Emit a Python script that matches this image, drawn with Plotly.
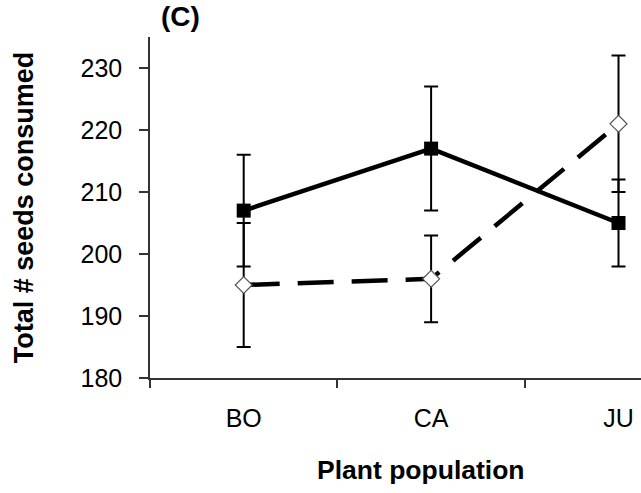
import plotly.graph_objects as go

populations = ["BO", "CA", "JU"]
solid_means = [207, 217, 205]
solid_err = [9, 10, 7]
dashed_means = [195, 196, 221]
dashed_err = [10, 7, 11]
y_ticks = [180, 190, 200, 210, 220, 230]

x_pos = list(range(len(populations)))
FONT = "Liberation Sans, Arial, sans-serif"

fig = go.Figure()

fig.add_trace(go.Scatter(
    x=x_pos, y=solid_means,
    mode="lines+markers",
    line=dict(color="black", width=4.5),
    marker=dict(symbol="square", size=14, color="black"),
    error_y=dict(type="data", array=solid_err, visible=True,
                 color="black", thickness=2, width=7),
    showlegend=False,
))

fig.add_trace(go.Scatter(
    x=x_pos, y=dashed_means,
    mode="lines+markers",
    line=dict(color="black", width=4.5, dash="36px,18px"),
    marker=dict(symbol="diamond", size=13, color="white",
                line=dict(color="#555555", width=1.2)),
    error_y=dict(type="data", array=dashed_err, visible=True,
                 color="black", thickness=2, width=7),
    showlegend=False,
))

fig.update_layout(
    width=641, height=493,
    margin=dict(l=150, r=0, t=37, b=115),
    plot_bgcolor="white", paper_bgcolor="white",
    font=dict(family=FONT, size=24, color="black"),
    xaxis=dict(
        range=[-0.5, 2.12],
        tickmode="array", tickvals=x_pos, ticktext=populations,
        ticks="", showgrid=False, zeroline=False,
        showline=True, linecolor="#333333", linewidth=1.5,
        ticklabelstandoff=17,
        tickfont=dict(size=25),
        minor=dict(tickmode="array", tickvals=[-0.5, 0.5, 1.5, 2.5],
                   ticks="outside", ticklen=8, tickwidth=1.5,
                   tickcolor="#333333", showgrid=False),
    ),
    yaxis=dict(
        range=[180, 235],
        tickmode="array", tickvals=y_ticks,
        ticks="outside", ticklen=9, tickwidth=1.5, tickcolor="#333333",
        showgrid=False, zeroline=False,
        showline=True, linecolor="#333333", linewidth=1.5,
        ticklabelstandoff=12,
        tickfont=dict(size=25),
        title=dict(text="<b>Total # seeds consumed</b>",
                   font=dict(size=27), standoff=39),
    ),
    annotations=[
        dict(text="<b>Plant population</b>", xref="x", yref="paper",
             x=0.947, y=0, yshift=-75, xanchor="center", yanchor="top",
             showarrow=False, font=dict(size=26.5)),
        dict(text="<b>(C)</b>", xref="paper", yref="paper",
             x=0.018, y=1, yshift=38, xanchor="left", yanchor="top",
             showarrow=False, font=dict(size=28)),
    ],
)

fig.write_html("out.html")
